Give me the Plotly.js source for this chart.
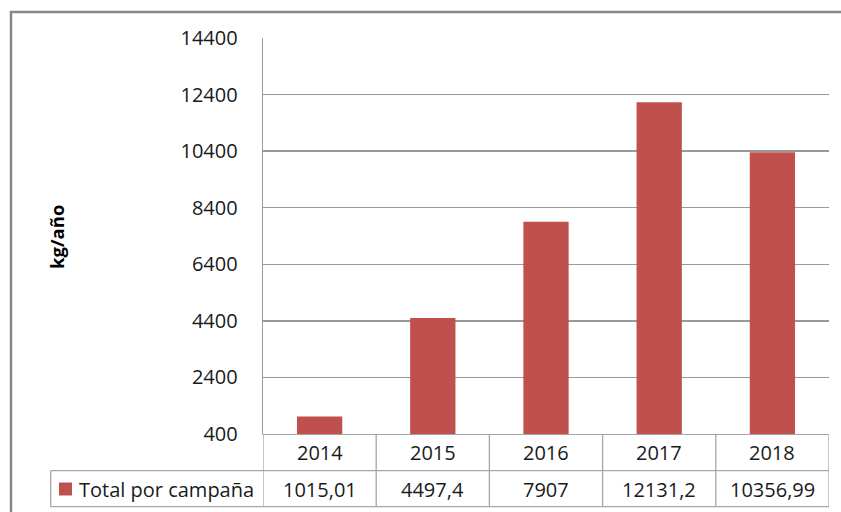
<!DOCTYPE html>
<html>
<head>
<meta charset="utf-8">
<script src="https://cdn.plot.ly/plotly-3.0.1.min.js"></script>
<style>html,body{margin:0;padding:0;background:#fff;}#chart{width:841px;height:512px;}</style>
</head>
<body>
<div id="chart"></div>
<script>
const years = ['2014', '2015', '2016', '2017', '2018'];
const totals = [1015.01, 4497.4, 7907, 12131.2, 10356.99];
const seriesName = 'Total por campaña';
const yTicks = [400, 2400, 4400, 6400, 8400, 10400, 12400, 14400];
const yTitle = 'kg/año';

const W = 841, H = 512;
const L = 263, R = 829, T = 38, B = 434;
const px = x => (x - L) / (R - L);
const py = y => (B - y) / (B - T);
const FONT = '"Open Sans", "Liberation Sans", sans-serif';
const FS = 20;
const gridC = '#9a9a9a';
const tableC = '#a6a6a6';
const barC = '#C0504D';
const txtC = '#1a1a1a';

const rowMid1 = 452, rowMid2 = 489, rowTop2 = 470.7, rowBot = 506.7, tableLeft = 50.7;

const shapes = [];
// outer chart border
shapes.push({type:'rect', xref:'paper', yref:'paper', x0:px(11), x1:px(900), y0:py(600), y1:py(12), line:{color:'#878787', width:2.5}, fillcolor:'rgba(0,0,0,0)', layer:'above'});
// table horizontal lines
shapes.push({type:'line', xref:'paper', yref:'paper', x0:px(tableLeft), x1:px(R), y0:py(rowTop2), y1:py(rowTop2), line:{color:tableC, width:1.3}});
shapes.push({type:'line', xref:'paper', yref:'paper', x0:px(tableLeft), x1:px(R), y0:py(rowBot), y1:py(rowBot), line:{color:tableC, width:1.3}});
// table vertical lines (category boundaries via x axis scale)
for (let i = 0; i <= years.length; i++) {
  shapes.push({type:'line', xref:'x', yref:'paper', x0:i - 0.5, x1:i - 0.5, y0:py(B), y1:py(rowBot), line:{color:tableC, width:1.3}});
}
shapes.push({type:'line', xref:'paper', yref:'paper', x0:px(tableLeft), x1:px(tableLeft), y0:py(rowTop2), y1:py(rowBot), line:{color:tableC, width:1.3}});
// legend key
shapes.push({type:'rect', xref:'paper', yref:'paper', x0:px(59), x1:px(72), y0:py(495.5), y1:py(482.5), line:{width:0}, fillcolor:barC});

const annotations = [];
years.forEach((yr, i) => {
  annotations.push({xref:'x', yref:'paper', x:i, y:py(rowMid1), text:yr, showarrow:false, xanchor:'center', yanchor:'middle', font:{family:FONT, size:FS, color:txtC}});
  annotations.push({xref:'x', yref:'paper', x:i, y:py(rowMid2), text:String(totals[i]).replace('.', ','), showarrow:false, xanchor:'center', yanchor:'middle', font:{family:FONT, size:FS, color:txtC}});
});
annotations.push({xref:'paper', yref:'paper', x:px(77), y:py(rowMid2), text:seriesName, showarrow:false, xanchor:'left', yanchor:'middle', font:{family:FONT, size:FS, color:txtC}});
annotations.push({xref:'paper', yref:'paper', x:px(56), y:py(237), text:'<b>' + yTitle + '</b>', textangle:-90, showarrow:false, xanchor:'center', yanchor:'middle', font:{family:FONT, size:18.5, color:'#000'}});

const data = [{
  type:'bar', x:[0,1,2,3,4], y:totals, name:seriesName,
  marker:{color:barC, line:{width:0}}, width:0.4, hoverinfo:'skip'
}];

const layout = {
  width:W, height:H,
  margin:{l:L, r:W - R, t:T, b:H - B},
  paper_bgcolor:'#fff', plot_bgcolor:'#fff',
  showlegend:false,
  font:{family:FONT, size:FS, color:txtC},
  xaxis:{range:[-0.5, 4.5], showticklabels:false, showgrid:false, zeroline:false, ticks:'', showline:true, linecolor:tableC, linewidth:1.3, fixedrange:true},
  yaxis:{range:[400, 14400], tickvals:yTicks, ticktext:yTicks.map(String), showgrid:true, gridcolor:gridC, gridwidth:1.3, zeroline:false, showline:true, linecolor:gridC, linewidth:1.3, ticks:'', ticklabelstandoff:20, tickfont:{family:FONT, size:FS, color:txtC}, fixedrange:true},
  shapes:shapes,
  annotations:annotations
};

Plotly.newPlot('chart', data, layout, {displayModeBar:false, staticPlot:true});
</script>
</body>
</html>
